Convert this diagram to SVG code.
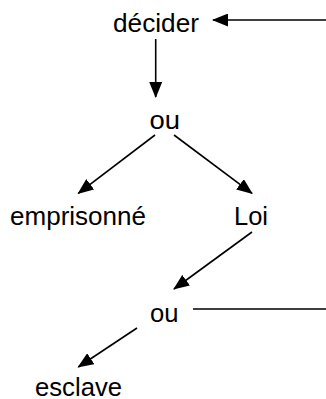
<svg xmlns="http://www.w3.org/2000/svg" width="326" height="399" viewBox="0 0 326 399">
<style>
text{font-family:"Liberation Sans",Arial,sans-serif;font-size:25px;fill:#000}
.c{stroke:#000;stroke-width:1.6;fill:none}
.a{marker-end:url(#ah)}
</style>
<defs>
<marker id="ah" markerUnits="userSpaceOnUse" markerWidth="16" markerHeight="13" refX="15" refY="6.5" orient="auto" viewBox="0 0 16 13">
<path d="M0,0 L16,6.5 L0,13 z" fill="#000"/>
</marker>
</defs>
<rect width="326" height="399" fill="#fff"/>
<g id="connectors">
<line class="c a" x1="326" y1="20" x2="213" y2="20"/>
<line class="c a" x1="155.7" y1="39" x2="155.7" y2="97"/>
<line class="c a" x1="155" y1="135" x2="78.3" y2="193.3"/>
<line class="c a" x1="174" y1="135" x2="252" y2="193.3"/>
<line class="c a" x1="252" y1="232" x2="174" y2="289"/>
<line class="c" x1="193" y1="309" x2="326" y2="309"/>
<line class="c a" x1="137" y1="328" x2="78.3" y2="367"/>
</g>
<g id="decider"><text x="113" y="32" textLength="86" lengthAdjust="spacingAndGlyphs">décider</text></g>
<g id="ou1"><text x="149.5" y="128.5" textLength="30.5" lengthAdjust="spacingAndGlyphs">ou</text></g>
<g id="emprisonne"><text x="10" y="225" textLength="136" lengthAdjust="spacingAndGlyphs">emprisonné</text></g>
<g id="loi"><text x="234" y="225" textLength="34" lengthAdjust="spacingAndGlyphs">Loi</text></g>
<g id="ou2"><text x="150" y="322" textLength="28.5" lengthAdjust="spacingAndGlyphs">ou</text></g>
<g id="esclave"><text x="35" y="396" textLength="87" lengthAdjust="spacingAndGlyphs">esclave</text></g>
</svg>
